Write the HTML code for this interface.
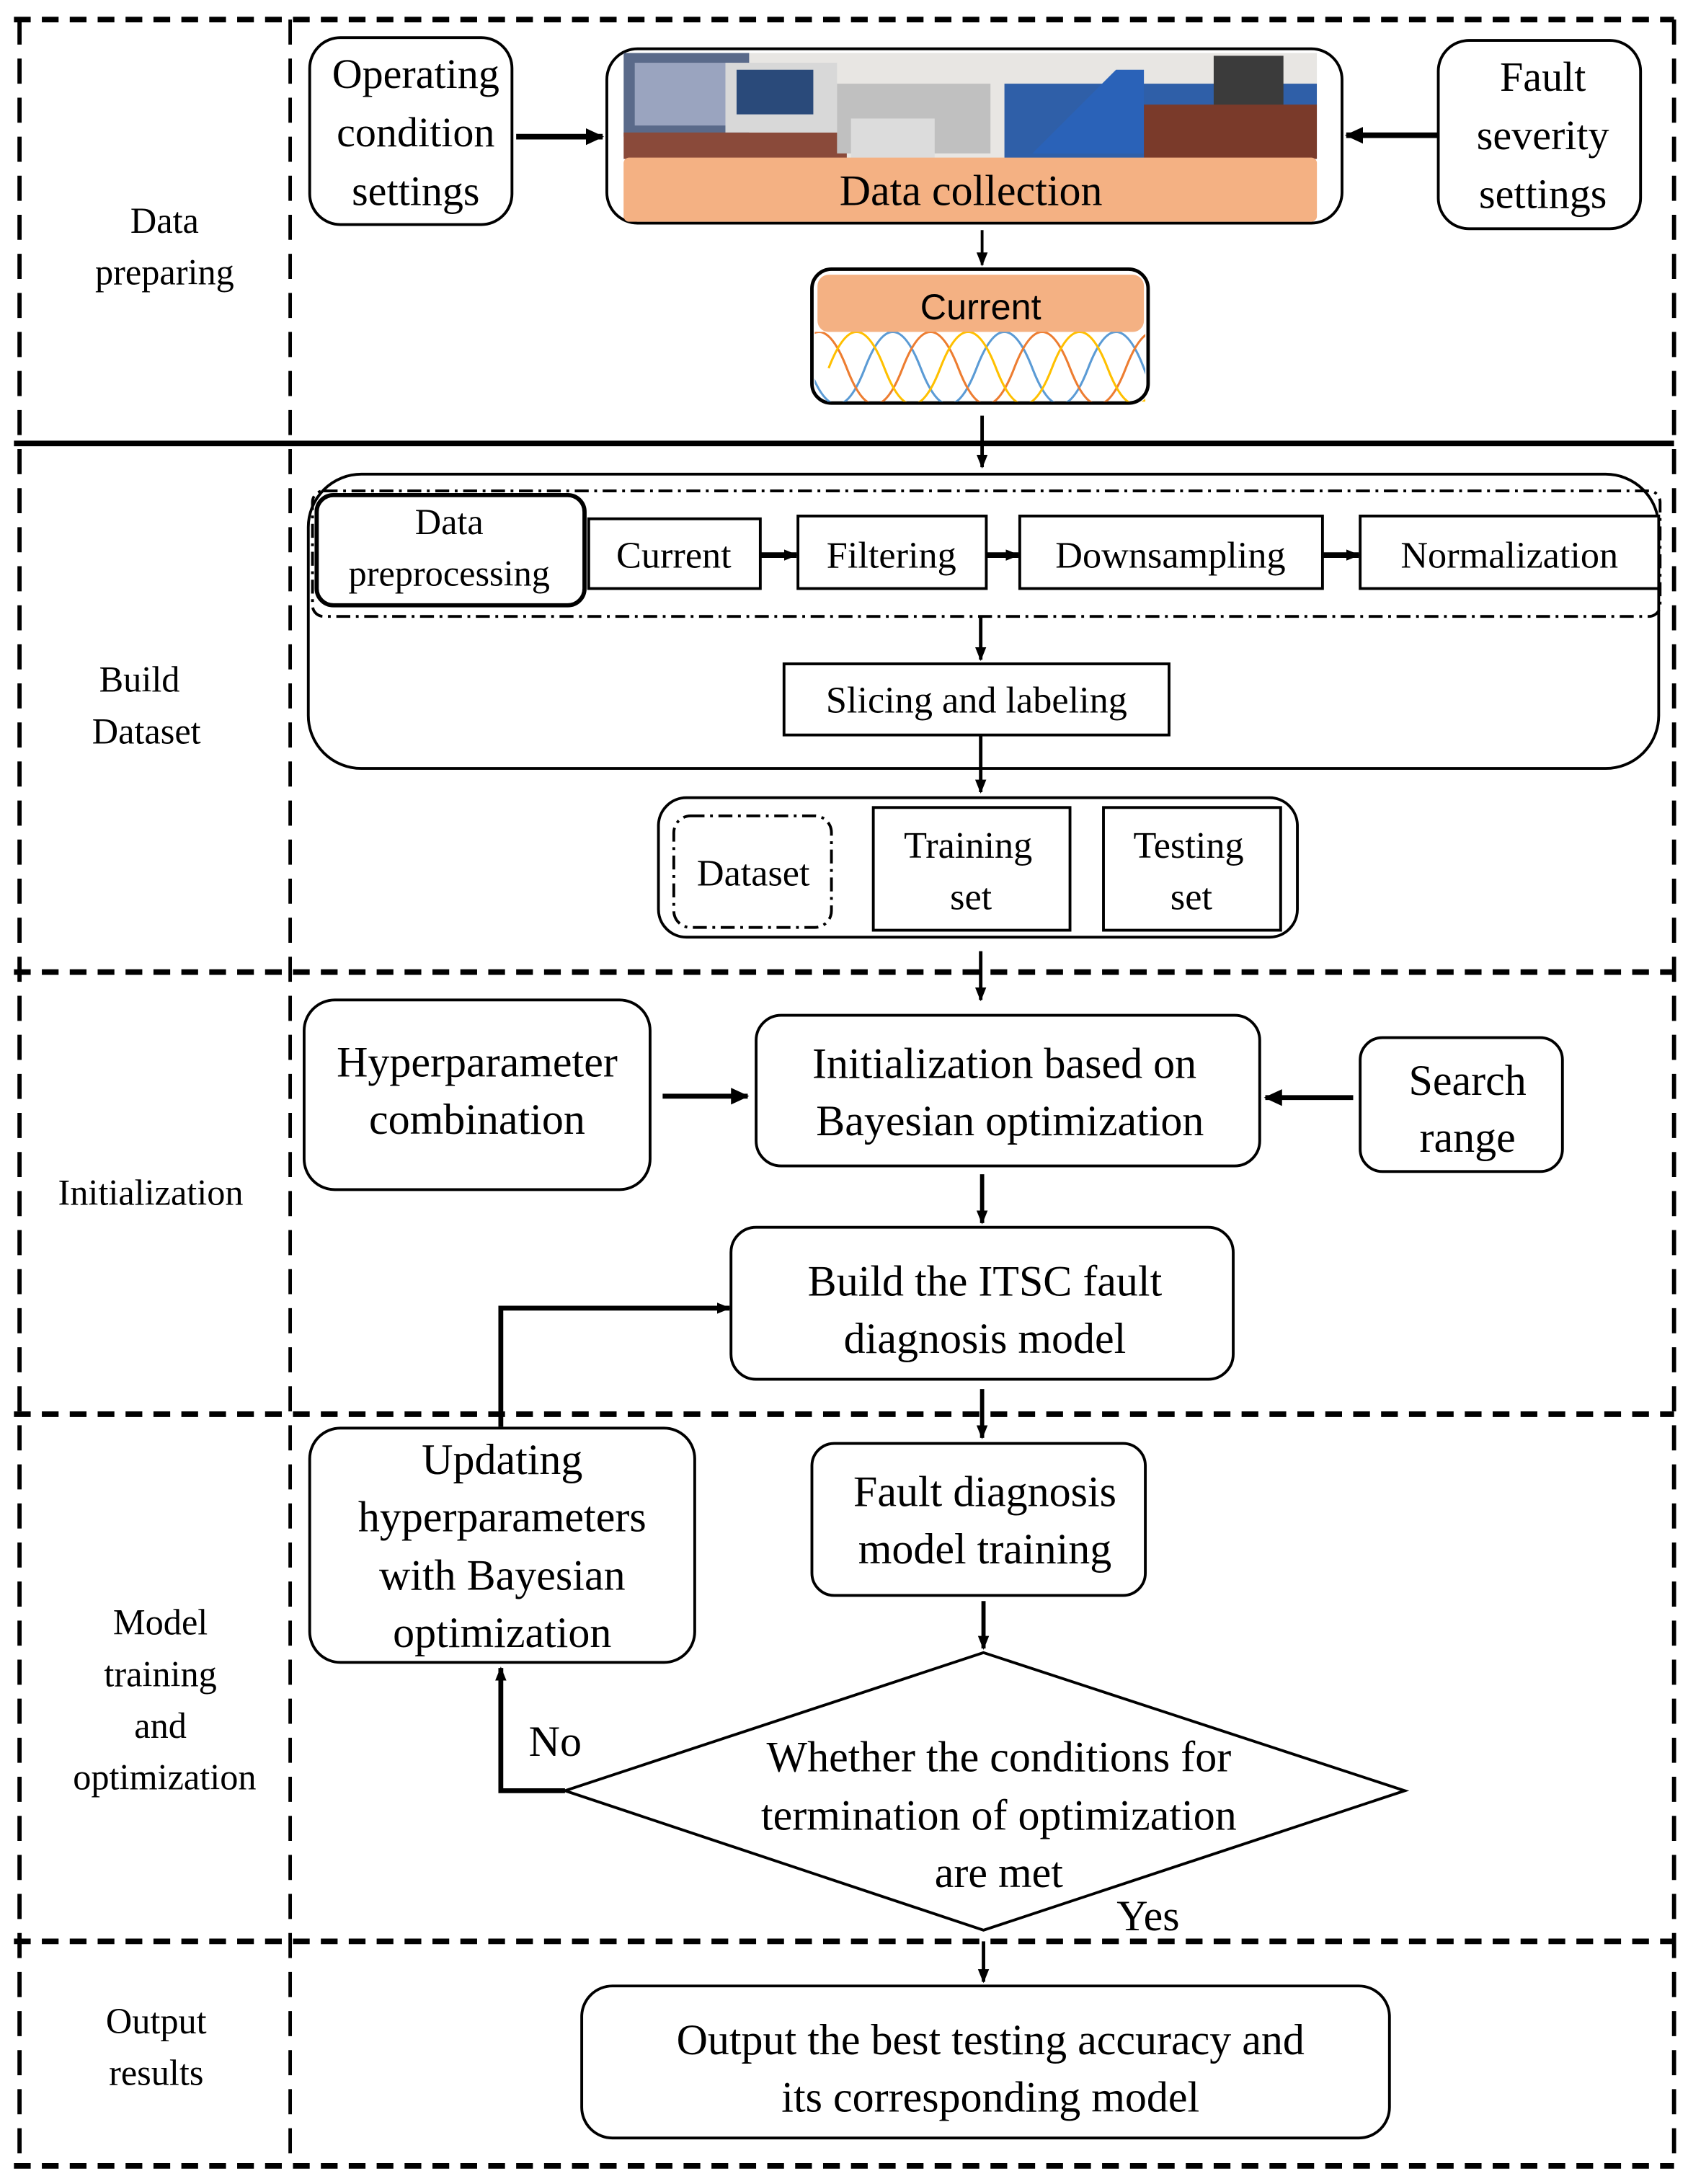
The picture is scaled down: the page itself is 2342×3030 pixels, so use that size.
<!DOCTYPE html>
<html><head><meta charset="utf-8"><style>html,body{margin:0;padding:0;background:#fff}svg{display:block}</style></head>
<body>
<svg width="2342" height="3030" viewBox="0 0 1210 1566" preserveAspectRatio="none" xmlns="http://www.w3.org/2000/svg">
<defs>
<marker id="ah" markerWidth="10" markerHeight="10" refX="9" refY="5" orient="auto" markerUnits="userSpaceOnUse"><path d="M0,1 L10,5 L0,9 Z" fill="#000"/></marker>
<marker id="ahb" markerWidth="14" markerHeight="14" refX="12" refY="7" orient="auto" markerUnits="userSpaceOnUse"><path d="M0,1 L13,7 L0,13 Z" fill="#000"/></marker>
<clipPath id="wc"><rect x="584" y="238" width="237" height="50"/></clipPath>
<clipPath id="pc"><rect x="447" y="38" width="497" height="76"/></clipPath>
</defs>
<g font-family="'Liberation Serif', serif" fill="#000">
<line x1="10" y1="14" x2="1200" y2="14" stroke="#000" stroke-width="4" stroke-dasharray="12,8"/>
<line x1="10" y1="1553" x2="1200" y2="1553" stroke="#000" stroke-width="4" stroke-dasharray="12,8"/>
<line x1="14" y1="14" x2="14" y2="1553" stroke="#000" stroke-width="3" stroke-dasharray="18,10"/>
<line x1="1200" y1="14" x2="1200" y2="1553" stroke="#000" stroke-width="3" stroke-dasharray="18,10"/>
<line x1="208" y1="14" x2="208" y2="1553" stroke="#000" stroke-width="2.5" stroke-dasharray="18,10"/>
<line x1="10" y1="318" x2="1200" y2="318" stroke="#000" stroke-width="4"/>
<line x1="10" y1="697" x2="1200" y2="697" stroke="#000" stroke-width="4" stroke-dasharray="12,8"/>
<line x1="10" y1="1014" x2="1200" y2="1014" stroke="#000" stroke-width="4" stroke-dasharray="12,8"/>
<line x1="10" y1="1392" x2="1200" y2="1392" stroke="#000" stroke-width="4" stroke-dasharray="12,8"/>

<g font-size="26" text-anchor="middle">
<text x="118" y="167">Data</text><text x="118" y="204">preparing</text>
<text x="100" y="496">Build</text><text x="105" y="533">Dataset</text>
<text x="108" y="864">Initialization</text>
<text x="115" y="1172">Model</text><text x="115" y="1209">training</text><text x="115" y="1246">and</text><text x="118" y="1283">optimization</text>
<text x="112" y="1458">Output</text><text x="112" y="1495">results</text>
</g>

<rect x="222" y="27" width="145" height="134" rx="22" fill="#fff" stroke="#000" stroke-width="2"/>
<g font-size="30" text-anchor="middle"><text x="298" y="63">Operating</text><text x="298" y="105">condition</text><text x="298" y="147">settings</text></g>
<rect x="1031" y="29" width="145" height="135" rx="22" fill="#fff" stroke="#000" stroke-width="2"/>
<g font-size="30" text-anchor="middle"><text x="1106" y="65">Fault</text><text x="1106" y="107">severity</text><text x="1106" y="149">settings</text></g>
<rect x="435" y="35" width="527" height="125" rx="22" fill="#fff" stroke="#000" stroke-width="2"/>
<g clip-path="url(#pc)">
<rect x="447" y="38" width="497" height="76" fill="#e8e6e3"/>
<rect x="447" y="38" width="90" height="60" fill="#5a6a8a"/>
<rect x="455" y="45" width="70" height="45" fill="#9aa4bf"/>
<rect x="447" y="95" width="160" height="19" fill="#8a4a3a"/>
<rect x="520" y="45" width="80" height="50" fill="#d8d8d8"/>
<rect x="528" y="50" width="55" height="32" fill="#2a4a7a"/>
<rect x="600" y="60" width="110" height="50" fill="#c0c0c0"/>
<rect x="610" y="85" width="60" height="28" fill="#dcdcdc"/>
<rect x="720" y="60" width="224" height="54" fill="#2f5fa8"/>
<polygon points="740,110 800,50 820,50 820,110" fill="#2a62b8"/>
<rect x="870" y="40" width="50" height="50" fill="#3b3b3b"/>
<rect x="820" y="75" width="124" height="39" fill="#7a3a2a"/>
</g>
<rect x="447" y="113" width="497" height="46" rx="4" fill="#f4b183"/>
<text x="696" y="147" font-size="31" text-anchor="middle">Data collection</text>
<line x1="370" y1="98" x2="432" y2="98" stroke="#000" stroke-width="4" marker-end="url(#ahb)"/>
<line x1="1031" y1="97" x2="965" y2="97" stroke="#000" stroke-width="4" marker-end="url(#ahb)"/>
<line x1="704" y1="165" x2="704" y2="190" stroke="#000" stroke-width="2" marker-end="url(#ah)"/>
<rect x="582" y="193" width="241" height="96" rx="14" fill="#fff" stroke="#000" stroke-width="2.5"/>
<rect x="586" y="197" width="234" height="41" rx="8" fill="#f4b183"/>
<text x="703" y="229" font-family="'Liberation Sans', sans-serif" font-size="26" text-anchor="middle">Current</text>
<g clip-path="url(#wc)" fill="none" stroke-width="1.6">
<path d="M540,264 q20,-52 40,0 t40,0 t40,0 t40,0 t40,0 t40,0 t40,0 t40,0" stroke="#5b9bd5"/>
<path d="M567,264 q20,-52 40,0 t40,0 t40,0 t40,0 t40,0 t40,0 t40,0 t40,0" stroke="#ed7d31"/>
<path d="M594,264 q20,-52 40,0 t40,0 t40,0 t40,0 t40,0 t40,0 t40,0 t40,0" stroke="#ffc000"/>
</g>
<line x1="704" y1="298" x2="704" y2="335" stroke="#000" stroke-width="2.5" marker-end="url(#ah)"/>

<rect x="221" y="340" width="968" height="211" rx="38" fill="none" stroke="#000" stroke-width="2"/>
<rect x="224" y="352" width="966" height="90" rx="8" fill="none" stroke="#000" stroke-width="2" stroke-dasharray="10,4,2,4"/>
<rect x="227" y="355" width="192" height="79" rx="12" fill="#fff" stroke="#000" stroke-width="3"/>
<g font-size="26" text-anchor="middle"><text x="322" y="383">Data</text><text x="322" y="420">preprocessing</text></g>
<g fill="#fff" stroke="#000" stroke-width="2">
<rect x="422" y="372" width="123" height="50"/><rect x="572" y="370" width="135" height="52"/><rect x="731" y="370" width="217" height="52"/><rect x="975" y="370" width="214" height="52"/>
</g>
<g font-size="27" text-anchor="middle"><text x="483" y="407">Current</text><text x="639" y="407">Filtering</text><text x="839" y="407">Downsampling</text><text x="1082" y="407">Normalization</text></g>
<line x1="545" y1="398" x2="571" y2="398" stroke="#000" stroke-width="4" marker-end="url(#ah)"/>
<line x1="707" y1="398" x2="730" y2="398" stroke="#000" stroke-width="4" marker-end="url(#ah)"/>
<line x1="948" y1="398" x2="974" y2="398" stroke="#000" stroke-width="4" marker-end="url(#ah)"/>
<line x1="703" y1="442" x2="703" y2="473" stroke="#000" stroke-width="2.5" marker-end="url(#ah)"/>
<rect x="562" y="476" width="276" height="51" fill="#fff" stroke="#000" stroke-width="2"/>
<text x="700" y="511" font-size="27" text-anchor="middle">Slicing and labeling</text>
<line x1="703" y1="527" x2="703" y2="568" stroke="#000" stroke-width="2.5" marker-end="url(#ah)"/>
<rect x="472" y="572" width="458" height="100" rx="20" fill="#fff" stroke="#000" stroke-width="2"/>
<rect x="483" y="585" width="113" height="80" rx="12" fill="none" stroke="#000" stroke-width="2" stroke-dasharray="10,4,2,4"/>
<rect x="626" y="579" width="141" height="88" fill="none" stroke="#000" stroke-width="2"/>
<rect x="791" y="579" width="127" height="88" fill="none" stroke="#000" stroke-width="2"/>
<g font-size="27" text-anchor="middle"><text x="540" y="635">Dataset</text><text x="694" y="615">Training</text><text x="696" y="652">set</text><text x="852" y="615">Testing</text><text x="854" y="652">set</text></g>
<line x1="703" y1="682" x2="703" y2="717" stroke="#000" stroke-width="2.5" marker-end="url(#ah)"/>

<rect x="218" y="717" width="248" height="136" rx="22" fill="#fff" stroke="#000" stroke-width="2"/>
<g font-size="31" text-anchor="middle"><text x="342" y="772">Hyperparameter</text><text x="342" y="813">combination</text></g>
<rect x="542" y="728" width="361" height="108" rx="18" fill="#fff" stroke="#000" stroke-width="2"/>
<g font-size="31" text-anchor="middle"><text x="720" y="773">Initialization based on</text><text x="724" y="814">Bayesian optimization</text></g>
<rect x="975" y="744" width="145" height="96" rx="16" fill="#fff" stroke="#000" stroke-width="2"/>
<g font-size="31" text-anchor="middle"><text x="1052" y="785">Search</text><text x="1052" y="826">range</text></g>
<line x1="475" y1="786" x2="536" y2="786" stroke="#000" stroke-width="3.5" marker-end="url(#ahb)"/>
<line x1="970" y1="787" x2="907" y2="787" stroke="#000" stroke-width="3.5" marker-end="url(#ahb)"/>
<line x1="704" y1="842" x2="704" y2="877" stroke="#000" stroke-width="3" marker-end="url(#ah)"/>
<rect x="524" y="880" width="360" height="109" rx="18" fill="#fff" stroke="#000" stroke-width="2"/>
<g font-size="31" text-anchor="middle"><text x="706" y="929">Build the ITSC fault</text><text x="706" y="970">diagnosis model</text></g>
<polyline points="359,1023 359,938 523,938" fill="none" stroke="#000" stroke-width="3.5" marker-end="url(#ah)"/>
<line x1="704" y1="996" x2="704" y2="1031" stroke="#000" stroke-width="3" marker-end="url(#ah)"/>

<rect x="222" y="1024" width="276" height="168" rx="22" fill="#fff" stroke="#000" stroke-width="2"/>
<g font-size="31" text-anchor="middle"><text x="360" y="1057">Updating</text><text x="360" y="1098">hyperparameters</text><text x="360" y="1140">with Bayesian</text><text x="360" y="1181">optimization</text></g>
<rect x="582" y="1035" width="239" height="109" rx="16" fill="#fff" stroke="#000" stroke-width="2"/>
<g font-size="31" text-anchor="middle"><text x="706" y="1080">Fault diagnosis</text><text x="706" y="1121">model training</text></g>
<line x1="705" y1="1148" x2="705" y2="1182" stroke="#000" stroke-width="3" marker-end="url(#ah)"/>
<polygon points="705,1185 1007,1284 705,1384 405,1284" fill="#fff" stroke="#000" stroke-width="2"/>
<g font-size="31" text-anchor="middle"><text x="716" y="1270">Whether the conditions for</text><text x="716" y="1312">termination of optimization</text><text x="716" y="1353">are met</text></g>
<polyline points="405,1284 359,1284 359,1196" fill="none" stroke="#000" stroke-width="3.5" marker-end="url(#ah)"/>
<text x="398" y="1259" font-size="31" text-anchor="middle">No</text>
<text x="823" y="1384" font-size="31" text-anchor="middle">Yes</text>
<line x1="705" y1="1392" x2="705" y2="1421" stroke="#000" stroke-width="2.5" marker-end="url(#ah)"/>

<rect x="417" y="1424" width="579" height="109" rx="22" fill="#fff" stroke="#000" stroke-width="2"/>
<g font-size="31" text-anchor="middle"><text x="710" y="1473">Output the best testing accuracy and</text><text x="710" y="1514">its corresponding model</text></g>
</g>
</svg>
</body></html>
